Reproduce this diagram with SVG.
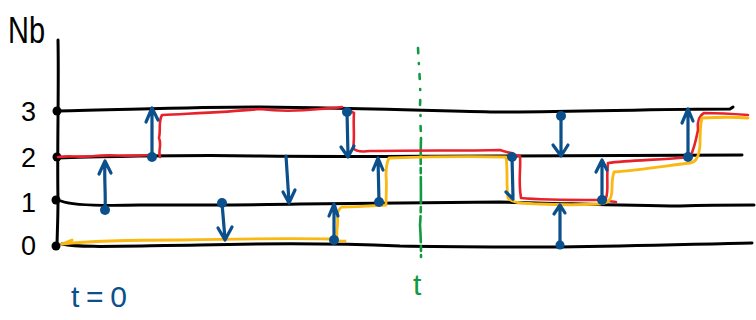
<svg xmlns="http://www.w3.org/2000/svg" width="756" height="320" viewBox="0 0 756 320">
<style>
.ax{fill:none;stroke:#000;stroke-width:3;stroke-linecap:round;stroke-linejoin:round}
.red{fill:none;stroke:#e8222c;stroke-width:2.6;stroke-linecap:round;stroke-linejoin:round}
.yel{fill:none;stroke:#fab812;stroke-width:2.8;stroke-linecap:round;stroke-linejoin:round}
.bl{fill:none;stroke:#0b4f8b;stroke-width:3.2;stroke-linecap:round;stroke-linejoin:round}
.dot{fill:#0b4f8b}
.kd{fill:#000}
.gr{fill:none;stroke:#119a40;stroke-width:2.6;stroke-linecap:round}
.lab{font-family:"Liberation Sans",Arial,sans-serif;fill:#000}
</style>
<rect width="756" height="320" fill="#fff"/>
<g id="axis">
<path class="ax" d="M58,40 C59,90 57,150 58,200 C58,220 57,238 57,247"/>
<circle class="kd" cx="57" cy="111" r="4.5"/>
<circle class="kd" cx="57" cy="157" r="4.5"/>
<circle class="kd" cx="56" cy="200" r="4.5"/>
<circle class="kd" cx="56" cy="246" r="4.5"/>
<text class="lab" x="8" y="43" font-size="36" textLength="37" lengthAdjust="spacingAndGlyphs">Nb</text>
<text class="lab" x="21" y="121" font-size="27">3</text>
<text class="lab" x="21" y="167" font-size="27">2</text>
<text class="lab" x="21" y="212" font-size="27">1</text>
<text class="lab" x="21" y="255" font-size="27">0</text>
</g>
<g id="levels">
<path class="ax" d="M57,111 C120,110 190,107 260,107 C350,108 450,111 500,112 C580,112 650,109 730,109 L733,107"/>
<path class="ax" d="M57,158 C130,156 200,155 260,156 C350,157 420,156 500,156 C600,156 680,156 742,155"/>
<path class="ax" d="M61,201 C70,205 100,206 140,205 C200,205 260,205 300,204 C380,203 450,202 500,202 C560,203 620,206 680,206 C710,205 740,205 754,205"/>
<path class="ax" d="M62,244 C80,248 120,246 200,245 C280,243 330,243 400,246 C450,247 500,247 560,247 C640,246 700,244 752,243"/>
</g>
<g id="tline">
<path class="gr" d="M418,48 C419,70 421,90 420,105 C421,115 420,125 421,132" stroke-dasharray="5,10,1,10"/>
<path class="gr" d="M421,138 C420,170 422,200 420,225 C421,240 421,250 421,257" stroke-dasharray="26,4,5,4"/>
<text x="413" y="295" font-family="Liberation Sans,Arial,sans-serif" font-size="30" fill="#119a40">t</text>
</g>
<g id="red-path">
<path class="red" d="M58,157 C70,155 80,158 95,156 C110,154 125,157 150,155"/>
<path class="red" d="M160,157 C158,150 162,145 159,138 C161,130 158,122 162,115 C200,113 230,112 260,109 C275,111 300,111 320,109 C330,108 338,108 342,107"/>
<path class="red" d="M350,111 L354,113 C353,125 355,140 353,148 C356,152 362,152 370,151 C420,150 460,151 500,150 C506,152 510,153 512,153"/>
<path class="red" d="M516,155 L520,156 C521,170 518,180 521,198 C540,200 570,200 600,200 L616,202"/>
<path class="red" d="M606,198 C609,190 606,180 608,163 C630,160 660,160 690,157 C694,150 696,140 698,130 C697,120 700,115 704,113 C720,113 735,114 748,115"/>
</g>
<g id="yellow-path">
<path class="yel" d="M72,240 L62,244 C90,241 130,240 180,240 C230,239 280,238 330,239 C334,240 340,242 345,241"/>
<path class="yel" d="M337,238 C336,230 339,222 337,215 C338,211 339,208 342,207 C360,207 370,206 386,205 C386,195 387,185 386,175 C386,168 387,162 389,158 C420,157 460,156 506,157 C508,170 506,185 508,198 C512,203 520,203 540,204 C560,205 580,205 600,204 C610,203 612,198 612,188 C612,180 613,175 614,172 C640,170 665,166 690,163 C697,162 699,155 700,145 C700,135 700,125 702,118 C720,117 735,117 748,118"/>
</g>
<g id="arrows">
<g id="a1"><path class="bl" d="M152,157 L152,109 M146,122 L152,108 L158,120"/><circle class="dot" cx="152" cy="157" r="5"/></g>
<g id="a2"><path class="bl" d="M105,210 C106,195 104,180 105,162 M99,174 L105,161 L111,173"/><circle class="dot" cx="105" cy="210" r="5"/></g>
<g id="a3"><path class="bl" d="M222,203 L225,239 M218,228 L225,240 L232,227"/><circle class="dot" cx="222" cy="203" r="5"/></g>
<g id="a4"><path class="bl" d="M286,156 C287,170 288,185 289,202 M283,192 L289,203 L295,190"/></g>
<g id="a5"><path class="bl" d="M347,111 L348,156 M341,147 L348,157 L354,146"/><circle class="dot" cx="347" cy="112" r="5"/></g>
<g id="a6"><path class="bl" d="M334,240 L334,205 M329,216 L334,204 L338,216"/><circle class="dot" cx="334" cy="240" r="5"/></g>
<g id="a7"><path class="bl" d="M379,202 L378,159 M373,170 L378,158 L383,170"/><circle class="dot" cx="379" cy="202" r="5"/></g>
<g id="a8"><path class="bl" d="M561,116 L561,155 M553,145 L561,156 L568,145"/><circle class="dot" cx="561" cy="116" r="5"/></g>
<g id="a9"><path class="bl" d="M512,157 L513,197 M506,192 L513,199"/><circle class="dot" cx="512" cy="157" r="5"/></g>
<g id="a10"><path class="bl" d="M560,245 L560,206 M554,214 L560,205 L565,213"/><circle class="dot" cx="560" cy="245" r="4.5"/></g>
<g id="a11"><path class="bl" d="M602,200 L602,160 M596,172 L602,160 L607,170"/><circle class="dot" cx="602" cy="200" r="5"/></g>
<g id="a12"><path class="bl" d="M688,157 L688,110 M682,123 L688,109 L693,121"/><circle class="dot" cx="688" cy="157" r="5"/></g>
<text x="71" y="307" font-family="Liberation Sans,Arial,sans-serif" font-size="30" fill="#0b4f8b" textLength="56" lengthAdjust="spacing">t=0</text>
</g>
</svg>
